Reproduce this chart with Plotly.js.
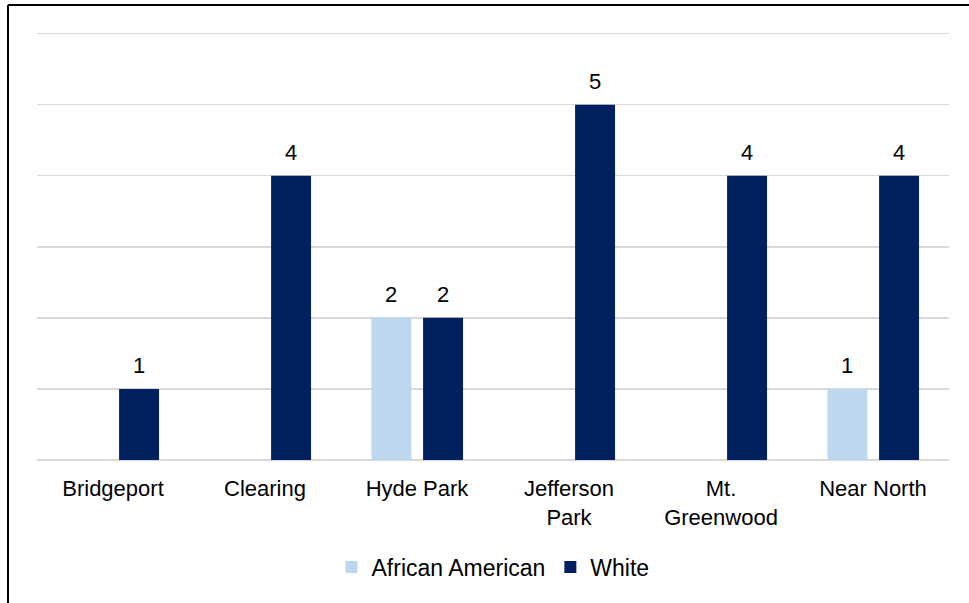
<!DOCTYPE html>
<html>
<head>
<meta charset="utf-8">
<script src="https://cdn.plot.ly/plotly-3.0.1.min.js"></script>
<style>html,body{margin:0;padding:0;background:#fff;}#chart{width:969px;height:603px;}</style>
</head>
<body>
<div id="chart"></div>
<script>
const categories = ["Bridgeport", "Clearing", "Hyde Park", "Jefferson<br>Park", "Mt.<br>Greenwood", "Near North"];
const africanAmerican = [null, null, 2, null, null, 1];
const white = [1, 4, 2, 5, 4, 4];
const seriesNames = ["African American", "White"];
const seriesColors = ["#BDD7EE", "#002060"];

const font = "Liberation Sans, Arial, sans-serif";
const FS = 22;

// bar geometry in category units
const barWidth = 0.263;
const offsets = [-0.30, 0.04];
const seriesData = [africanAmerican, white];

const traces = seriesData.map((vals, k) => ({
  type: "bar", name: seriesNames[k], x: categories, y: vals,
  width: barWidth, offset: offsets[k],
  marker: {color: seriesColors[k]},
  hoverinfo: "x+y"
}));

const annotations = [];
seriesData.forEach((vals, k) => {
  vals.forEach((v, i) => {
    if (v == null) return;
    annotations.push({
      xref: "x", yref: "y", x: i + offsets[k] + barWidth / 2, y: v,
      text: String(v), showarrow: false, yanchor: "bottom", yshift: 9,
      font: {family: font, size: FS, color: "#000"}
    });
  });
});

const layout = {
  width: 969, height: 603,
  margin: {l: 37, r: 20, t: 30, b: 143},
  paper_bgcolor: "#fff", plot_bgcolor: "#fff",
  font: {family: font, size: FS, color: "#000"},
  barmode: "group",
  showlegend: true,
  legend: {orientation: "h", x: 0.5, xanchor: "center", y: -0.249, yanchor: "middle", itemwidth: 30,
           font: {family: font, size: 23, color: "#000"}, traceorder: "normal"},
  xaxis: {type: "category", showline: false, ticks: "", ticklabelstandoff: 13,
          tickfont: {family: font, size: FS, color: "#000"},
          showgrid: false, zeroline: false},
  yaxis: {range: [0, 6.05], tickvals: [0, 1, 2, 3, 4, 5, 6], showticklabels: false, showgrid: true,
          gridcolor: "#D9D9D9", gridwidth: 1.5,
          zeroline: true, zerolinecolor: "#D9D9D9", zerolinewidth: 1.5, fixedrange: true},
  annotations: annotations,
  shapes: [
    {type: "line", xref: "paper", yref: "paper", x0: (8 - 37) / 912, x1: (8 - 37) / 912, y0: (460 - 5) / 430, y1: (460 - 610) / 430,
     line: {color: "#000", width: 2}},
    {type: "line", xref: "paper", yref: "paper", x0: (8 - 37) / 912, x1: (975 - 37) / 912, y0: (460 - 5) / 430, y1: (460 - 5) / 430,
     line: {color: "#000", width: 2}}
  ]
};

Plotly.newPlot("chart", traces, layout, {displayModeBar: false, staticPlot: true});
</script>
</body>
</html>
